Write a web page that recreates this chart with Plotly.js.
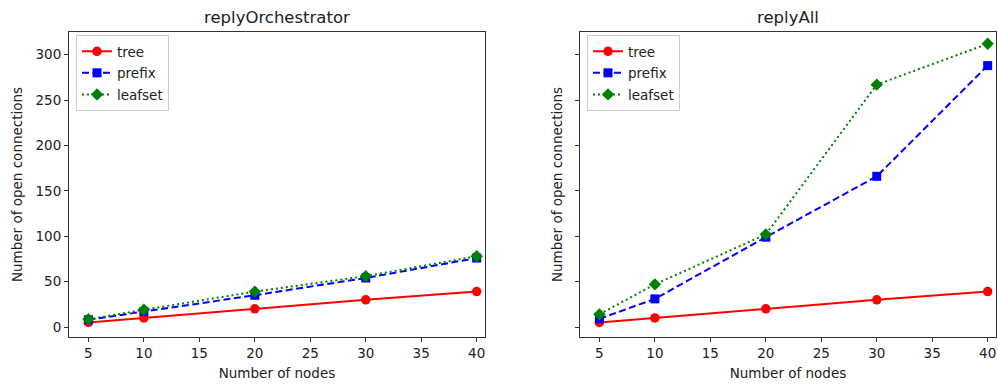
<!DOCTYPE html>
<html>
<head>
<meta charset="utf-8">
<script src="https://cdn.plot.ly/plotly-3.0.1.min.js"></script>
<style>html,body{margin:0;padding:0;background:#fff;}#chart{width:998px;height:385px;}</style>
</head>
<body>
<div id="chart"></div>
<script>
const nodes = [5, 10, 20, 30, 40];
const orchTree = [5, 10, 20, 30, 39];
const orchPrefix = [8, 17, 35, 54, 76];
const orchLeafset = [8.5, 19, 39, 56, 78];
const allTree = [5, 10, 20, 30, 39];
const allPrefix = [9, 31, 99, 166, 288];
const allLeafset = [14, 47, 102, 267, 312];
const xTicks = [5, 10, 15, 20, 25, 30, 35, 40];
const yTicks = [0, 50, 100, 150, 200, 250, 300];

const FONT = 'DejaVu Sans, sans-serif';
const FS = 13.5;
function tr(x, y, name, color, dash, symbol, msize, xa, ya, leg) {
  return {
    x: x, y: y, name: name, type: 'scatter', mode: 'lines+markers',
    line: {color: color, width: 2, dash: dash},
    marker: {color: color, symbol: symbol, size: msize},
    xaxis: xa, yaxis: ya, legend: leg, legendgroup: leg + name
  };
}
const DASH = '7px,3.5px';
const DOT = '2px,3px';
const data = [
  tr(nodes, orchTree, 'tree', '#ff0000', 'solid', 'circle', 9.5, 'x', 'y', 'legend'),
  tr(nodes, orchPrefix, 'prefix', '#0000ff', DASH, 'square', 9, 'x', 'y', 'legend'),
  tr(nodes, orchLeafset, 'leafset', '#008000', DOT, 'diamond', 9.5, 'x', 'y', 'legend'),
  tr(nodes, allTree, 'tree', '#ff0000', 'solid', 'circle', 9.5, 'x2', 'y2', 'legend2'),
  tr(nodes, allPrefix, 'prefix', '#0000ff', DASH, 'square', 9, 'x2', 'y2', 'legend2'),
  tr(nodes, allLeafset, 'leafset', '#008000', DOT, 'diamond', 9.5, 'x2', 'y2', 'legend2')
];

const W = 998, H = 385;
function xax(d0, d1, anchor) {
  return {
    domain: [d0 / W, d1 / W], anchor: anchor, range: [3.25, 40.75],
    tickmode: 'array', tickvals: xTicks, ticktext: xTicks.map(String),
    ticks: 'outside', ticklen: 4, tickcolor: '#333', tickwidth: 1,
    showline: true, mirror: true, linecolor: '#333', linewidth: 1,
    showgrid: false, zeroline: false,
    tickfont: {family: FONT, size: FS, color: '#222'},
    title: {text: 'Number of nodes', font: {family: FONT, size: FS, color: '#222'}, standoff: 8}
  };
}
function yax(anchor, showLabels) {
  return {
    domain: [48 / H, 1 - 32 / H], anchor: anchor, range: [-11, 325],
    tickmode: 'array', tickvals: yTicks, ticktext: yTicks.map(String),
    showticklabels: showLabels,
    ticks: 'outside', ticklen: 4, tickcolor: '#333', tickwidth: 1,
    showline: true, mirror: true, linecolor: '#333', linewidth: 1,
    showgrid: false, zeroline: false,
    tickfont: {family: FONT, size: FS, color: '#222'},
    title: {text: 'Number of open connections', font: {family: FONT, size: FS, color: '#222'}, standoff: 9}
  };
}
const legendStyle = {
  bgcolor: 'rgba(255,255,255,0.85)', bordercolor: '#cccccc', borderwidth: 1,
  font: {family: FONT, size: FS, color: '#222'},
  xanchor: 'left', yanchor: 'top', y: 1 - 35 / H, itemwidth: 30, tracegroupgap: 1
};
const layout = {
  width: W, height: H,
  margin: {l: 0, r: 0, t: 0, b: 0},
  paper_bgcolor: '#fff', plot_bgcolor: '#fff',
  showlegend: true,
  xaxis: xax(69, 485, 'y'),
  yaxis: yax('x', true),
  xaxis2: xax(580, 996, 'y2'),
  yaxis2: Object.assign(yax('x2', false), {matches: 'y'}),
  legend: Object.assign({x: 76 / W}, legendStyle),
  legend2: Object.assign({x: 587 / W}, legendStyle),
  annotations: [
    {text: 'replyOrchestrator', x: (69 + 485) / 2 / W, y: 1 - 17 / H, xref: 'paper', yref: 'paper',
     xanchor: 'center', yanchor: 'middle', showarrow: false, font: {family: FONT, size: 16.5, color: '#222'}},
    {text: 'replyAll', x: (580 + 996) / 2 / W, y: 1 - 17 / H, xref: 'paper', yref: 'paper',
     xanchor: 'center', yanchor: 'middle', showarrow: false, font: {family: FONT, size: 16.5, color: '#222'}}
  ]
};
Plotly.newPlot('chart', data, layout, {displayModeBar: false, staticPlot: true});
</script>
</body>
</html>
